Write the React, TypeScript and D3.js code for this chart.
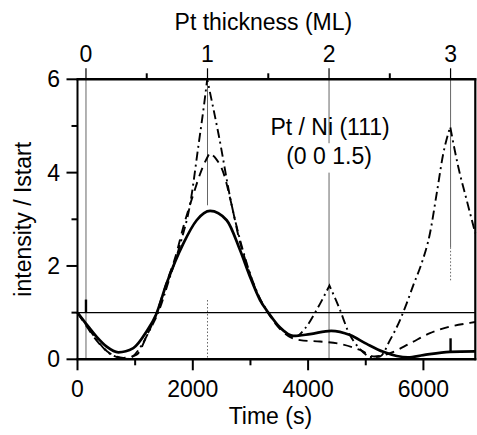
import React from "react";
import * as d3 from "d3";

// ---- data ----
const solidTime = [0, 150, 333, 506, 708, 968, 1200, 1360, 1547, 1835, 2067, 2300, 2588, 2819, 2992, 3166, 3310, 3513, 3743, 4033, 4400, 4727, 5016, 5305, 5537, 5733, 5998, 6460, 6900];
const solidValue = [1.0, 0.76, 0.48, 0.27, 0.15, 0.24, 0.6, 0.95, 1.63, 2.48, 2.98, 3.18, 2.98, 2.34, 1.77, 1.27, 1.0, 0.68, 0.5, 0.54, 0.61, 0.52, 0.33, 0.16, 0.07, 0.04, 0.09, 0.16, 0.17];

const dashTime = [0, 150, 333, 506, 795, 1027, 1200, 1360, 1547, 1700, 1850, 2000, 2150, 2290, 2400, 2530, 2675, 2800, 2950, 3166, 3310, 3513, 3700, 3860, 4207, 4553, 4900, 5150, 5420, 5767, 6114, 6461, 6808, 6900];
const dashValue = [1.0, 0.72, 0.4, 0.18, 0.03, 0.1, 0.5, 0.95, 1.65, 2.2, 2.9, 3.5, 4.05, 4.42, 4.3, 4.0, 3.3, 2.6, 1.98, 1.28, 0.98, 0.65, 0.47, 0.41, 0.38, 0.33, 0.2, 0.06, 0.13, 0.34, 0.56, 0.7, 0.78, 0.8];
const dashCusps = [2290];

const dashDotTime = [0, 150, 333, 506, 700, 870, 1113, 1250, 1400, 1600, 1800, 1950, 2100, 2200, 2250, 2450, 2675, 2800, 2950, 3166, 3310, 3513, 3800, 3946, 4149, 4370, 4553, 4698, 4900, 5100, 5247, 5420, 5594, 5710, 5825, 5970, 6114, 6230, 6345, 6465, 6605, 6751, 6900];
const dashDotValue = [1.0, 0.74, 0.42, 0.17, 0.04, 0.01, 0.3, 0.62, 1.0, 1.75, 2.55, 3.3, 4.6, 5.5, 6.0, 4.8, 3.3, 2.65, 2.0, 1.3, 1.0, 0.68, 0.5, 0.66, 1.06, 1.58, 1.06, 0.59, 0.22, 0.05, 0.06, 0.41, 0.84, 1.2, 1.59, 2.06, 2.7, 3.55, 4.41, 4.98, 4.12, 3.41, 2.7];
const dashDotCusps = [2250, 4370, 6465];

const timeTicks = [0, 1000, 2000, 3000, 4000, 5000, 6000];
const timeLabels = ["0", "", "2000", "", "4000", "", "6000"];
const yTicks = [0, 1, 2, 3, 4, 5, 6];
const yLabels = ["0", "", "2", "", "4", "", "6"];
const mlTicks = [0, 0.5, 1, 1.5, 2, 2.5, 3];
const mlLabels = ["0", "", "1", "", "2", "", "3"];

// Pt thickness calibration: time at 0 ML and seconds per monolayer
const mlZeroTime = 147;
const mlTimePerLayer = 2108;

// vertical guide lines at integer ML (visible segments, in intensity units)
const mlGuideML = [0, 1, 1, 2, 2, 3, 3];
const mlGuideFrom = [6, 6, 1.27, 6, 4.0, 6, 2.4];
const mlGuideTo = [0, 3.3, 0, 4.63, 0, 2.4, 1.65];
const mlGuideDotted = [false, false, true, false, false, false, true];

// short markers
const markerML = [0, 3];
const markerFrom = [1.0, 0.16];
const markerTo = [1.28, 0.45];

const W = 477;
const H = 435;
const FONT = "'Liberation Sans', Arial, Helvetica, sans-serif";

export default function App() {
  const x = d3.scaleLinear().domain([0, 6900]).range([77.5, 475.3]);
  const y = d3.scaleLinear().domain([0, 6]).range([359.3, 79.3]);
  const ml = (m: number) => x(mlZeroTime + m * mlTimePerLayer);

  const line = d3
    .line<[number, number]>()
    .x((d) => x(d[0]))
    .y((d) => y(d[1]))
    .curve(d3.curveMonotoneX);

  const buildPath = (ts: number[], vs: number[], cusps: number[]) => {
    const pts: [number, number][] = ts.map((t, i) => [t, vs[i]]);
    const pieces: [number, number][][] = [];
    let cur: [number, number][] = [];
    pts.forEach((p) => {
      cur.push(p);
      if (cusps.includes(p[0])) {
        pieces.push(cur);
        cur = [p];
      }
    });
    if (cur.length > 1) pieces.push(cur);
    return pieces
      .map((pc, i) => {
        const d = line(pc) || "";
        return i === 0 ? d : "L" + d.slice(1);
      })
      .join("");
  };

  const solidPath = buildPath(solidTime, solidValue, []);
  const dashPath = buildPath(dashTime, dashValue, dashCusps);
  const dashDotPath = buildPath(dashDotTime, dashDotValue, dashDotCusps);

  const left = x(0);
  const right = x(6900);
  const top = y(6);
  const bottom = y(0);

  return (
    <svg
      width={W}
      height={H}
      style={{ position: "absolute", left: 0, top: 0, background: "#fff" }}
      fontFamily={FONT}
    >
      <rect x={0} y={0} width={W} height={H} fill="#fff" />

      {/* ML guide lines */}
      {mlGuideML.map((m, i) => (
        <line
          key={"g" + i}
          x1={ml(m)}
          x2={ml(m)}
          y1={y(mlGuideFrom[i])}
          y2={y(mlGuideTo[i])}
          stroke="#555"
          strokeWidth={0.9}
          strokeDasharray={mlGuideDotted[i] ? "1.5,2" : undefined}
        />
      ))}

      {/* y = 1 reference line */}
      <line x1={left} x2={right} y1={y(1)} y2={y(1)} stroke="#000" strokeWidth={1.1} />

      {/* markers */}
      {markerML.map((m, i) => (
        <line
          key={"m" + i}
          x1={ml(m)}
          x2={ml(m)}
          y1={y(markerFrom[i])}
          y2={y(markerTo[i])}
          stroke="#000"
          strokeWidth={2.4}
        />
      ))}

      {/* curves */}
      <path d={dashDotPath} fill="none" stroke="#000" strokeWidth={1.9} strokeDasharray="9,4,2,4" />
      <path d={dashPath} fill="none" stroke="#000" strokeWidth={1.9} strokeDasharray="9,6" />
      <path d={solidPath} fill="none" stroke="#000" strokeWidth={2.7} strokeLinejoin="round" />

      {/* frame */}
      <line x1={left} x2={left} y1={top} y2={bottom} stroke="#000" strokeWidth={2} />
      <line x1={right} x2={right} y1={top - 1} y2={bottom + 1} stroke="#000" strokeWidth={2.2} />
      <line x1={left - 1} x2={right + 1} y1={top} y2={top} stroke="#000" strokeWidth={2.6} />
      <line x1={left - 1} x2={right + 1} y1={bottom} y2={bottom} stroke="#000" strokeWidth={2.4} />

      {/* bottom axis */}
      {timeTicks.map((t, i) => (
        <g key={"bt" + i}>
          <line
            x1={x(t)}
            x2={x(t)}
            y1={bottom}
            y2={bottom + (timeLabels[i] ? 11 : 6)}
            stroke="#000"
            strokeWidth={2}
          />
          {timeLabels[i] && (
            <text x={x(t)} y={397} textAnchor="middle" fontSize={23}>
              {timeLabels[i]}
            </text>
          )}
        </g>
      ))}
      <text x={(left + right) / 2 - 6} y={424} textAnchor="middle" fontSize={23}>
        Time (s)
      </text>

      {/* left axis */}
      {yTicks.map((v, i) => (
        <g key={"lt" + i}>
          <line
            x1={left - (yLabels[i] ? 11 : 6)}
            x2={left}
            y1={y(v)}
            y2={y(v)}
            stroke="#000"
            strokeWidth={2}
          />
          {yLabels[i] && (
            <text x={60} y={y(v) + 8} textAnchor="end" fontSize={23}>
              {yLabels[i]}
            </text>
          )}
        </g>
      ))}
      <text
        transform={`translate(31, ${(top + bottom) / 2}) rotate(-90)`}
        textAnchor="middle"
        fontSize={23}
      >
        intensity / Istart
      </text>

      {/* top axis (Pt thickness) */}
      {mlTicks.map((m, i) => (
        <g key={"tt" + i}>
          <line
            x1={ml(m)}
            x2={ml(m)}
            y1={top}
            y2={top - (mlLabels[i] ? 11 : 6)}
            stroke="#000"
            strokeWidth={mlLabels[i] ? 1.2 : 2}
          />
          {mlLabels[i] && (
            <text x={ml(m)} y={62} textAnchor="middle" fontSize={23}>
              {mlLabels[i]}
            </text>
          )}
        </g>
      ))}
      <text x={(left + right) / 2 - 13} y={30} textAnchor="middle" fontSize={23}>
        Pt thickness (ML)
      </text>

      {/* annotation */}
      <text x={ml(2) + 1} y={135} textAnchor="middle" fontSize={23}>
        Pt / Ni (111)
      </text>
      <text x={ml(2)} y={164} textAnchor="middle" fontSize={23}>
        (0 0 1.5)
      </text>
    </svg>
  );
}
